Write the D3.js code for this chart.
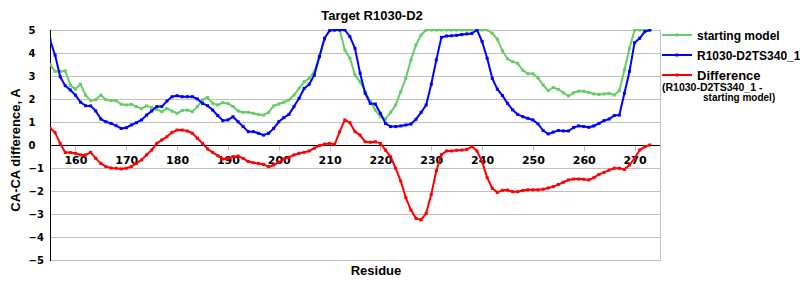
<!DOCTYPE html>
<html>
<head>
<meta charset="utf-8">
<script src="https://cdn.jsdelivr.net/npm/d3@7"></script>
<style>
  body { margin: 0; background: #fff; }
  svg text { font-family: "Liberation Sans", Arial, sans-serif; font-weight: bold; fill: #000; }
  .tick-label { font-family: "DejaVu Sans", sans-serif; }
</style>
</head>
<body>
<div id="chart"></div>
<script>
// residues 155..273
var residues = d3.range(155, 274);

var startingModel = [
  3.5, 3.2, 3.2, 3.22, 2.6, 2.43, 2.64, 2.17, 1.93, 1.97,
  2.17, 1.97, 1.93, 1.93, 1.77, 1.74, 1.77, 1.67, 1.58, 1.7,
  1.63, 1.54, 1.45, 1.59, 1.47, 1.38, 1.5, 1.52, 1.45, 1.67,
  1.96, 2.07, 1.81, 1.74, 1.84, 1.81, 1.67, 1.48, 1.42, 1.42,
  1.38, 1.33, 1.3, 1.42, 1.7, 1.78, 1.86, 1.96, 2.17, 2.46,
  2.75, 2.9, 3.2, 3.87, 4.6, 5, 5, 5, 4.13, 3.77,
  3.04, 2.75, 2.32, 1.91, 1.52, 1.23, 1.13, 1.42, 1.74, 2.32,
  2.9, 3.7, 4.35, 4.78, 5, 5, 5, 5, 5, 5,
  5, 5, 5, 5, 5, 5, 5, 4.86, 4.6, 4.1,
  3.75, 3.63, 3.55, 3.25, 3.1, 3.1, 2.92, 2.61, 2.37, 2.5,
  2.42, 2.27, 2.13, 2.27, 2.34, 2.34, 2.28, 2.22, 2.2, 2.22,
  2.25, 2.17, 2.36, 3.26, 4.2, 5, 5, 5, 5
];

var ts340 = [
  4.57, 3.91, 2.97, 2.58, 2.39, 2.17, 1.86, 1.71, 1.7, 1.48,
  1.13, 1.01, 0.94, 0.84, 0.72, 0.75, 0.87, 0.97, 1.09, 1.3,
  1.48, 1.67, 1.67, 1.91, 2.1, 2.14, 2.1, 2.1, 2.1, 2.0,
  1.81, 1.71, 1.52, 1.28, 1.06, 1.09, 1.23, 1.01, 0.8, 0.58,
  0.58, 0.51, 0.43, 0.51, 0.72, 1.01, 1.19, 1.33, 1.67, 2.03,
  2.46, 2.64, 3.04, 3.84, 4.64, 4.97, 5, 5, 5, 4.71,
  4.2, 3.12, 2.25, 1.81, 1.78, 1.38, 0.94, 0.8, 0.8, 0.83,
  0.87, 0.91, 1.12, 1.42, 1.74, 2.64, 3.7, 4.68, 4.74, 4.75,
  4.77, 4.8, 4.83, 4.85, 5, 4.5, 3.77, 2.9, 2.43, 2.15,
  1.81, 1.53, 1.33, 1.23, 1.16, 1.09, 0.92, 0.63, 0.48, 0.56,
  0.63, 0.61, 0.61, 0.76, 0.83, 0.8, 0.77, 0.83, 0.94, 1.06,
  1.13, 1.28, 1.3, 2.25, 3.2, 4.45, 4.64, 4.93, 5
];

var difference = [
  0.75, 0.54, 0.07, -0.33, -0.33, -0.36, -0.43, -0.43, -0.32, -0.58,
  -0.8, -0.94, -1.0, -1.01, -1.04, -1.01, -0.94, -0.8, -0.65, -0.43,
  -0.22, 0.07, 0.22, 0.36, 0.55, 0.65, 0.65, 0.61, 0.51, 0.29,
  0.07, -0.17, -0.32, -0.46, -0.61, -0.61, -0.51, -0.48, -0.58, -0.72,
  -0.77, -0.8, -0.84, -0.94, -0.87, -0.75, -0.61, -0.54, -0.43, -0.36,
  -0.32, -0.26, -0.14, -0.03, 0.04, 0.07, 0.03, 0.58, 1.09, 0.97,
  0.58, 0.43, 0.14, 0.12, 0.14, 0.07, -0.22, -0.51, -1.01, -1.57,
  -2.29, -2.83, -3.19, -3.26, -2.97, -2.15, -1.12, -0.42, -0.26, -0.26,
  -0.23, -0.22, -0.19, -0.07, -0.26, -0.72, -1.42, -1.88, -2.06, -1.97,
  -1.96, -2.03, -2.03, -1.98, -1.95, -1.95, -1.95, -1.92, -1.87, -1.81,
  -1.72, -1.62, -1.52, -1.48, -1.48, -1.49, -1.52, -1.42, -1.28, -1.19,
  -1.09, -1.01, -1.01, -1.06, -0.87, -0.58, -0.22, -0.07, 0
];

var xTicks = d3.range(160, 271, 10);
var yTicks = d3.range(-5, 6, 1);

var seriesNames = ["starting model", "R1030-D2TS340_1", "Difference"];
var seriesColors = ["#66cc66", "#0000ff", "#ff0000"];
var seriesValues = [startingModel, ts340, difference];

var W = 800, H = 300;
var plotLeft = 50, plotRight = 660, plotTop = 30, plotBottom = 260;

var svg = d3.select("#chart").append("svg")
    .attr("width", W)
    .attr("height", H);

var x = d3.scaleLinear().domain([155, 275]).range([plotLeft, plotRight]);
var y = d3.scaleLinear().domain([-5, 5]).range([plotBottom, plotTop]);

// grid lines
svg.append("g")
    .selectAll("line")
    .data(yTicks)
    .enter()
    .append("line")
    .attr("x1", plotLeft)
    .attr("x2", plotRight)
    .attr("y1", function(d) { return Math.round(y(d)) + 0.5; })
    .attr("y2", function(d) { return Math.round(y(d)) + 0.5; })
    .attr("stroke", "#c0c0c0")
    .attr("stroke-width", 1);

// right border
svg.append("line")
    .attr("x1", plotRight + 0.5).attr("x2", plotRight + 0.5)
    .attr("y1", plotTop).attr("y2", plotBottom + 1)
    .attr("stroke", "#c0c0c0");

// zero line with x ticks
svg.append("line")
    .attr("x1", plotLeft).attr("x2", plotRight)
    .attr("y1", Math.round(y(0)) + 0.5).attr("y2", Math.round(y(0)) + 0.5)
    .attr("stroke", "#000");

svg.append("g")
    .selectAll("line")
    .data(xTicks)
    .enter()
    .append("line")
    .attr("x1", function(d) { return Math.round(x(d)) + 0.5; })
    .attr("x2", function(d) { return Math.round(x(d)) + 0.5; })
    .attr("y1", Math.round(y(0)) + 1)
    .attr("y2", Math.round(y(0)) + 6)
    .attr("stroke", "#c0c0c0");

// left axis
svg.append("line")
    .attr("x1", plotLeft + 0.5).attr("x2", plotLeft + 0.5)
    .attr("y1", plotTop).attr("y2", plotBottom + 1)
    .attr("stroke", "#000");

// x tick labels
svg.append("g")
    .selectAll("text")
    .data(xTicks)
    .enter()
    .append("text")
    .attr("class", "tick-label")
    .attr("x", function(d) { return x(d) + 0.5; })
    .attr("y", y(0) + 18.5)
    .attr("text-anchor", "middle")
    .style("font-size", "11px")
    .text(function(d) { return d; });

// y tick labels
svg.append("g")
    .selectAll("text")
    .data(yTicks)
    .enter()
    .append("text")
    .attr("class", "tick-label")
    .attr("x", 28.5)
    .attr("y", function(d) { return y(d) + 4; })
    .style("font-size", "10px")
    .text(function(d) { return d < 0 ? "\u2212" + Math.abs(d) : d; });

// clip for data lines
svg.append("clipPath")
    .attr("id", "plot-clip")
    .append("rect")
    .attr("x", plotLeft)
    .attr("y", plotTop - 1)
    .attr("width", plotRight - plotLeft)
    .attr("height", plotBottom - plotTop + 2);

var line = d3.line()
    .x(function(d, i) { return x(residues[i]); })
    .y(function(d) { return y(d); });

var plot = svg.append("g").attr("clip-path", "url(#plot-clip)");

seriesValues.forEach(function(vals, k) {
    plot.append("path")
        .datum(vals)
        .attr("d", line)
        .attr("fill", "none")
        .attr("stroke", seriesColors[k])
        .attr("stroke-width", 2)
        .attr("stroke-linejoin", "round");

    plot.append("g")
        .selectAll("rect")
        .data(vals)
        .enter()
        .append("rect")
        .attr("x", function(d, i) { return x(residues[i]) - 1.5; })
        .attr("y", function(d) { return y(d) - 1.5; })
        .attr("width", 3)
        .attr("height", 3)
        .attr("fill", seriesColors[k]);
});

// title and axis titles
svg.append("text")
    .attr("x", 372)
    .attr("y", 20)
    .attr("text-anchor", "middle")
    .style("font-size", "13px")
    .text("Target R1030-D2");

svg.append("text")
    .attr("x", 376)
    .attr("y", 275)
    .attr("text-anchor", "middle")
    .style("font-size", "13px")
    .text("Residue");

svg.append("text")
    .attr("transform", "translate(20,150) rotate(-90)")
    .attr("text-anchor", "middle")
    .style("font-size", "13px")
    .text("CA-CA difference, A");

// legend
var legendY = [35, 55, 75];
var legend = svg.append("g");
seriesNames.forEach(function(name, k) {
    legend.append("line")
        .attr("x1", 662).attr("x2", 692)
        .attr("y1", legendY[k]).attr("y2", legendY[k])
        .attr("stroke", seriesColors[k])
        .attr("stroke-width", 2);
    legend.append("rect")
        .attr("x", 675.5).attr("y", legendY[k] - 1.5)
        .attr("width", 3).attr("height", 3)
        .attr("fill", seriesColors[k]);
    legend.append("text")
        .attr("x", 697)
        .attr("y", legendY[k] + 4.5)
        .style("font-size", k == 2 ? "13px" : "12px")
        .text(name);
});
legend.append("text")
    .attr("x", 662)
    .attr("y", 91)
    .style("font-size", "10.5px")
    .text("(R1030-D2TS340_1 -");
legend.append("text")
    .attr("x", 703)
    .attr("y", 101)
    .style("font-size", "10px")
    .text("starting model)");
</script>
</body>
</html>
